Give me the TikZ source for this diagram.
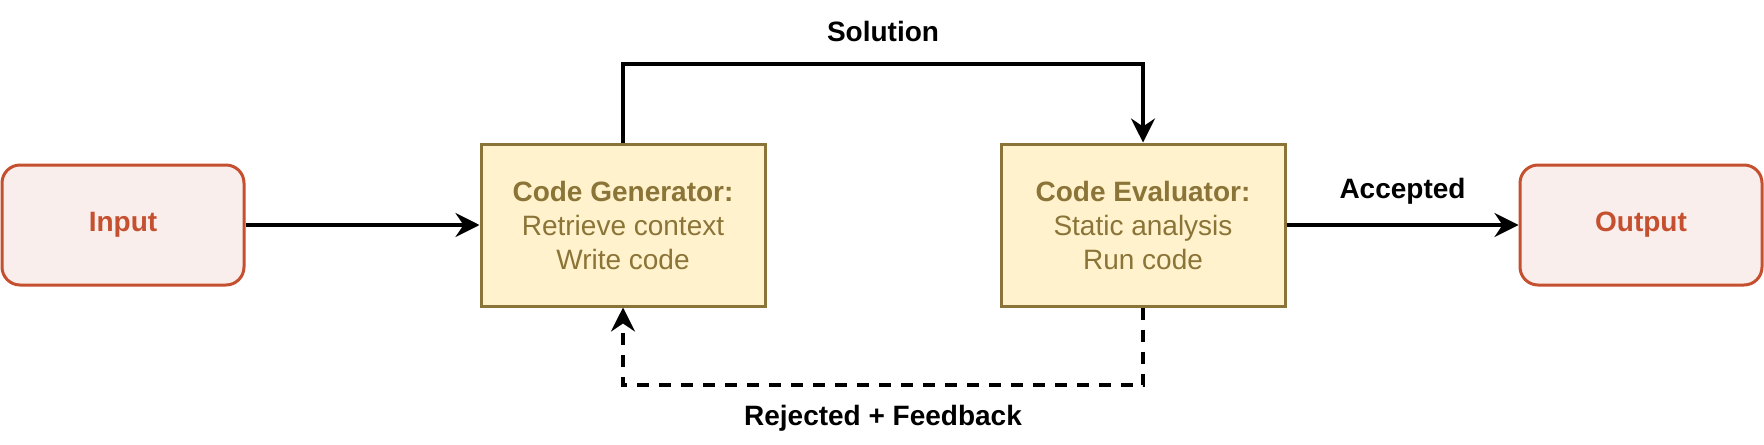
\documentclass[tikz,border=0pt]{standalone}
\usepackage{fontspec}
\setmainfont{Liberation Sans}
\usetikzlibrary{arrows.meta}

\definecolor{ioline}{HTML}{C5502F}
\definecolor{iofill}{HTML}{FAEEEC}
\definecolor{boxline}{HTML}{8A7437}
\definecolor{boxfill}{HTML}{FFF2CC}

\tikzset{
  io/.style={draw=ioline, fill=iofill, text=ioline, line width=1.5pt,
    rounded corners=9pt, minimum width=121pt, minimum height=60pt,
    font=\fontsize{14}{17}\selectfont\bfseries},
  agent/.style={draw=boxline, fill=boxfill, text=boxline, line width=1.5pt,
    minimum width=142pt, minimum height=81pt, align=center,
    font=\fontsize{14}{17}\selectfont},
  link/.style={line width=1.8pt, -{Stealth[length=12pt, width=12pt, inset=4pt]}},
  lbl/.style={font=\fontsize{14}{17}\selectfont\bfseries}
}

\begin{document}
\begin{tikzpicture} [x=0.5pt, y=-0.5pt]
  \useasboundingbox (0,0) rectangle (1764,444);
  \path  (123, 225)   node[io](In)  {Input}
         (623, 225)   node[agent](G) {\textbf{Code Generator:}\\Retrieve context\\Write code}
         (1143, 225)  node[agent](E) {\textbf{Code Evaluator:}\\Static analysis\\Run code}
         (1641, 225)  node[io](Out) {Output};
  \coordinate (s1) at (623, 64);
  \coordinate (s2) at (1143, 64);
  \coordinate (f1) at (1143, 385);
  \coordinate (f2) at (623, 385);

    \draw [link] (In) -- (G);
    \draw [link] (G) -- (s1) -- node [above=7pt, lbl]{Solution} (s2) -- (E);
    \draw [link] (E) -- node [above=6pt, lbl]{Accepted} (Out);
    \draw [link, dash pattern=on 6pt off 5pt] (E) -- (f1) -- node [below=6pt, lbl]{Rejected + Feedback} (f2) -- (G);

\end{tikzpicture}
\end{document}
